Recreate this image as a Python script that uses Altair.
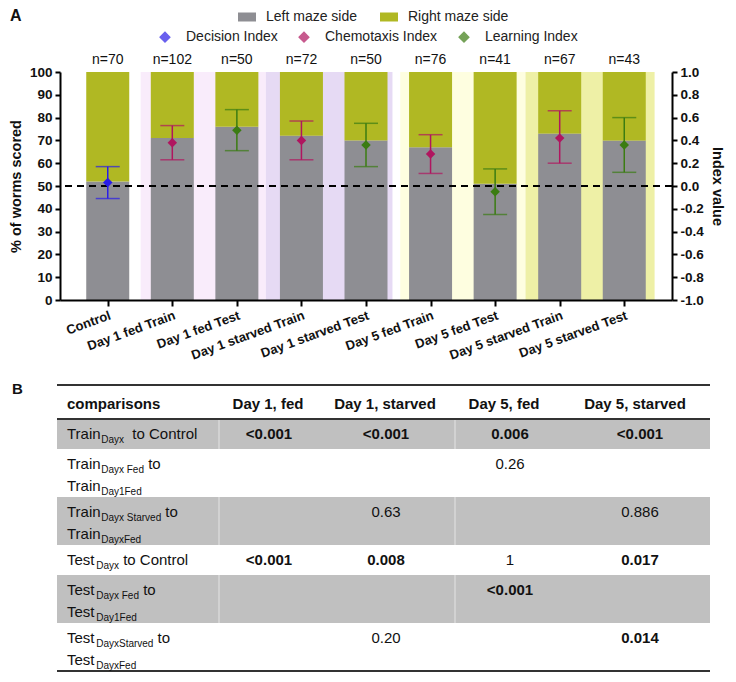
import altair as alt
import pandas as pd

# ---------------- Panel A data ----------------
groups = ["Control", "Day 1 fed Train", "Day 1 fed Test", "Day 1 starved Train",
          "Day 1 starved Test", "Day 5 fed Train", "Day 5 fed Test",
          "Day 5 starved Train", "Day 5 starved Test"]
n_worms = [70, 102, 50, 72, 50, 76, 41, 67, 43]
left_pct = [52, 71, 76, 72, 70, 67, 51, 73, 70]
index_type = ["Decision Index", "Chemotaxis Index", "Learning Index", "Chemotaxis Index",
              "Learning Index", "Chemotaxis Index", "Learning Index", "Chemotaxis Index",
              "Learning Index"]
index_val = [0.03, 0.38, 0.49, 0.40, 0.36, 0.28, -0.05, 0.42, 0.36]
index_hi = [0.17, 0.53, 0.67, 0.57, 0.55, 0.45, 0.15, 0.66, 0.60]
index_lo = [-0.11, 0.23, 0.31, 0.23, 0.17, 0.11, -0.25, 0.20, 0.12]
side_names = ["Left maze side", "Right maze side"]
index_names = ["Decision Index", "Chemotaxis Index", "Learning Index"]

# shaded condition blocks (in category units)
bg_names = ["Day 1 fed", "Day 1 starved", "Day 5 fed", "Day 5 starved"]
bg_start = [0.51, 2.45, 4.53, 6.47]
bg_end = [2.45, 4.41, 6.47, 8.47]

# ---------------- Panel B data ----------------
table_header = ["comparisons", "Day 1, fed", "Day 1, starved", "Day 5, fed", "Day 5, starved"]
row_labels = [
    [[("Train", 0), ("Dayx", 1), ("  to Control", 0)]],
    [[("Train", 0), ("Dayx Fed", 1), (" to", 0)], [("Train", 0), ("Day1Fed", 1)]],
    [[("Train", 0), ("Dayx Starved", 1), (" to", 0)], [("Train", 0), ("DayxFed", 1)]],
    [[("Test", 0), ("Dayx", 1), (" to Control", 0)]],
    [[("Test", 0), ("Dayx Fed", 1), (" to", 0)], [("Test", 0), ("Day1Fed", 1)]],
    [[("Test", 0), ("DayxStarved", 1), (" to", 0)], [("Test", 0), ("DayxFed", 1)]],
]
p_values = [
    ["<0.001", "<0.001", "0.006", "<0.001"],
    ["", "", "0.26", ""],
    ["", "0.63", "", "0.886"],
    ["<0.001", "0.008", "1", "0.017"],
    ["", "", "<0.001", ""],
    ["", "0.20", "", "0.014"],
]

# ---------------- styles / layout ----------------
FONT = "Liberation Sans"
GREY = "#8e8e93"
OLIVE = "#b0b823"
IDX_COLORS = ["#2a1de8", "#b0155f", "#3b7c12"]
BG_COLORS = ["#f9ecfb", "#e6daf4", "#fefee0", "#eef0a6"]
W, H = 612, 228

x_scale = alt.Scale(domain=[-0.662, 8.662], nice=False, zero=False)
pct_scale = alt.Scale(domain=[0, 100], nice=False, zero=False)
idx_scale = alt.Scale(domain=[-1, 1], nice=False, zero=False)

pos = list(range(len(groups)))
label_expr = "[" + ",".join("'" + g + "'" for g in groups) + "][datum.value]"

bar_rows = []
for i, g in enumerate(groups):
    bar_rows.append({"pos": i, "side": side_names[0], "y0": 0, "y1": left_pct[i]})
    bar_rows.append({"pos": i, "side": side_names[1], "y0": left_pct[i], "y1": 100})
bars_df = pd.DataFrame(bar_rows)

idx_df = pd.DataFrame({"pos": pos, "type": index_type, "val": index_val,
                       "hi": index_hi, "lo": index_lo})
n_df = pd.DataFrame({"pos": pos, "label": ["n=" + str(v) for v in n_worms]})
bg_df = pd.DataFrame({"name": bg_names, "start": bg_start, "end": bg_end, "col": BG_COLORS})

axis_common = dict(domainColor="black", domainWidth=2, tickColor="black", tickWidth=2,
                   labelFont=FONT, labelFontWeight="bold", labelColor="#111",
                   titleFont=FONT, titleFontWeight="bold", titleColor="#111", grid=False,
                   zindex=2, ticks=True, labelOverlap=False)

X_AX = alt.Axis(values=pos, labelExpr=label_expr, labelAngle=-20, labelAlign="right",
                labelBaseline="top", labelFontSize=13, tickSize=6, labelPadding=3,
                title=None, **axis_common)
PCT_AX = alt.Axis(values=list(range(0, 101, 10)), title="% of worms scored",
                  titleFontSize=14.5, labelFontSize=13.5, tickSize=5,
                  labelPadding=3, titlePadding=6, **axis_common)
IDX_AX = alt.Axis(values=[round(-1 + 0.2 * k, 1) for k in range(11)], orient="right",
                  labelExpr="replace(format(datum.value, '.1f'), '\u2212', '-')",
                  title="Index value", titleAngle=90, titleFontSize=14.5,
                  labelFontSize=13.5, tickSize=5, labelPadding=3, titlePadding=6,
                  **axis_common)

bg = alt.Chart(bg_df).mark_rect().encode(
    x=alt.X("start:Q", scale=x_scale, axis=X_AX),
    x2="end:Q",
    y=alt.datum(0, scale=pct_scale, axis=PCT_AX),
    y2=alt.datum(100),
    fill=alt.Fill("col:N", scale=None),
)

bars = alt.Chart(bars_df).mark_bar(size=43).encode(
    x=alt.X("pos:Q", scale=x_scale, axis=X_AX),
    y=alt.Y("y0:Q", scale=pct_scale, axis=PCT_AX),
    y2="y1:Q",
    color=alt.Color("side:N", scale=alt.Scale(domain=side_names, range=[GREY, OLIVE]),
                    legend=alt.Legend(orient="none", legendX=178, legendY=-64,
                                      direction="horizontal", title=None,
                                      symbolType="M-1,-0.5H1V0.5H-1Z", symbolSize=324,
                                      symbolStrokeWidth=0, labelFont=FONT,
                                      labelFontSize=14, labelColor="#222",
                                      labelOffset=10, columnPadding=22, padding=0)),
)

nlab = alt.Chart(n_df).mark_text(dy=-8, baseline="alphabetic", fontSize=14, font=FONT,
                                 color="#111").encode(
    x=alt.X("pos:Q", scale=x_scale, axis=X_AX),
    y=alt.datum(100, scale=pct_scale, axis=PCT_AX),
    text="label:N",
)

dash = alt.Chart(n_df).mark_rule(strokeDash=[7, 5], strokeWidth=2, color="black").encode(
    y=alt.datum(50, scale=pct_scale, axis=PCT_AX),
)

pct_layer = alt.layer(bg, bars, nlab, dash)

idx_color = alt.Color("type:N", scale=alt.Scale(domain=index_names, range=IDX_COLORS),
                      legend=alt.Legend(orient="none", legendX=98, legendY=-42,
                                        direction="horizontal", title=None,
                                        symbolType="diamond", symbolSize=90,
                                        labelFont=FONT, labelFontSize=14,
                                        labelColor="#222", labelOffset=14,
                                        columnPadding=18, padding=0))

err = alt.Chart(idx_df).mark_rule(strokeWidth=1.5).encode(
    x=alt.X("pos:Q", scale=x_scale, axis=X_AX),
    y=alt.Y("lo:Q", scale=idx_scale, axis=IDX_AX),
    y2="hi:Q",
    color=idx_color,
)
cap_hi = alt.Chart(idx_df).mark_tick(orient="horizontal", size=24, thickness=1.5).encode(
    x=alt.X("pos:Q", scale=x_scale, axis=X_AX),
    y=alt.Y("hi:Q", scale=idx_scale, axis=IDX_AX),
    color=idx_color,
)
cap_lo = alt.Chart(idx_df).mark_tick(orient="horizontal", size=24, thickness=1.5).encode(
    x=alt.X("pos:Q", scale=x_scale, axis=X_AX),
    y=alt.Y("lo:Q", scale=idx_scale, axis=IDX_AX),
    color=idx_color,
)
pts = alt.Chart(idx_df).mark_point(shape="diamond", filled=True, size=90, opacity=1).encode(
    x=alt.X("pos:Q", scale=x_scale, axis=X_AX),
    y=alt.Y("val:Q", scale=idx_scale, axis=IDX_AX),
    color=idx_color,
)
idx_layer = alt.layer(err, cap_hi, cap_lo, pts)

panel_a_label = alt.Chart(n_df.head(1)).mark_text(
    text="A", font=FONT, fontWeight="bold", fontSize=16, align="left", baseline="middle",
    color="#111").encode(x=alt.value(-50), y=alt.value(-56))

chart_a = alt.layer(pct_layer, idx_layer, panel_a_label).resolve_scale(
    y="independent", color="independent"
).properties(width=W, height=H)

# ---------------- Panel B (table) ----------------
TW = 653
row_h = [34, 30, 48, 48, 30, 48, 48]
TH = sum(row_h)
row_top = [sum(row_h[:k]) for k in range(len(row_h))]
MAIN, SUB = 15, 10
LABEL_X = 10
value_x = [212, 329, 453, 583]
header_x = [211, 328, 447, 578]
sep_x = [162, 398]

AW = {' ': 278, 'T': 611, 'r': 333, 'a': 556, 'i': 222, 'n': 556, 'D': 722, 'y': 500,
      'x': 500, 'F': 611, 'e': 556, 'd': 556, 'S': 667, 't': 278, 'v': 500, 'o': 556,
      'C': 722, 'l': 222, 's': 500, '1': 556}


def twidth(s, size):
    return sum(AW.get(c, 556) for c in s) * size / 1000.0


seg_rows = []
for r, lines in enumerate(row_labels):
    top = row_top[r + 1]
    if len(lines) == 1:
        bases = [top + 20]
    else:
        bases = [top + 20, top + 42]
    for li, line in enumerate(lines):
        x = LABEL_X
        for text, sub in line:
            size = SUB if sub else MAIN
            lead = len(text) - len(text.lstrip(" "))
            seg_rows.append({"x": x + twidth(" " * lead, size), "y": bases[li] + (3.5 if sub else 0),
                             "t": text.strip(), "size": size})
            x += twidth(text, size)
seg_df = pd.DataFrame(seg_rows)

val_rows = []
for r, vals in enumerate(p_values):
    for c, v in enumerate(vals):
        if v == "":
            continue
        num = float(v.replace("<", ""))
        val_rows.append({"x": value_x[c], "y": row_top[r + 1] + 20, "t": v,
                         "bold": num < 0.05})
val_df = pd.DataFrame(val_rows)

hdr_df = pd.DataFrame({"x": [LABEL_X] + header_x, "y": [19] * 5, "t": table_header})

grey_rows = [0, 2, 4]  # body rows with grey shading
grey_df = pd.DataFrame({"y0": [row_top[k + 1] for k in grey_rows],
                        "y1": [row_top[k + 1] + row_h[k + 1] for k in grey_rows]})
sep_df = pd.DataFrame([{"x": sx, "y0": row_top[k + 1], "y1": row_top[k + 1] + row_h[k + 1]}
                       for k in grey_rows for sx in sep_x])
lines_df = pd.DataFrame({"y": [0, row_h[0], TH]})

tx = alt.Scale(domain=[3, TW + 3], nice=False, zero=False)
ty = alt.Scale(domain=[0, TH], reverse=True, nice=False, zero=False)

grey = alt.Chart(grey_df).mark_rect(color="#c0c0c0").encode(
    x=alt.datum(0, scale=tx, axis=None), x2=alt.datum(TW),
    y=alt.Y("y0:Q", scale=ty, axis=None), y2="y1:Q")
seps = alt.Chart(sep_df).mark_rule(color="#e4e4e4", strokeWidth=1).encode(
    x=alt.X("x:Q", scale=tx, axis=None),
    y=alt.Y("y0:Q", scale=ty, axis=None), y2="y1:Q")
hlines = alt.Chart(lines_df).mark_rule(color="#333", strokeWidth=2).encode(
    x=alt.datum(0, scale=tx, axis=None), x2=alt.datum(TW),
    y=alt.Y("y:Q", scale=ty, axis=None))
hdr_left = alt.Chart(hdr_df.head(1)).mark_text(font=FONT, fontWeight="bold", fontSize=15,
                                               align="left", baseline="middle",
                                               color="#111").encode(
    x=alt.X("x:Q", scale=tx, axis=None), y=alt.Y("y:Q", scale=ty, axis=None), text="t:N")
hdr_rest = alt.Chart(hdr_df.iloc[1:]).mark_text(font=FONT, fontWeight="bold", fontSize=15,
                                                align="center", baseline="middle",
                                                color="#111").encode(
    x=alt.X("x:Q", scale=tx, axis=None), y=alt.Y("y:Q", scale=ty, axis=None), text="t:N")
segs = alt.Chart(seg_df).mark_text(font=FONT, align="left", baseline="alphabetic",
                                   color="#111").encode(
    x=alt.X("x:Q", scale=tx, axis=None), y=alt.Y("y:Q", scale=ty, axis=None),
    text="t:N", size=alt.Size("size:Q", scale=None))
vals_b = alt.Chart(val_df[val_df["bold"]]).mark_text(font=FONT, fontWeight="bold",
                                                     fontSize=15, align="center",
                                                     baseline="alphabetic",
                                                     color="#111").encode(
    x=alt.X("x:Q", scale=tx, axis=None), y=alt.Y("y:Q", scale=ty, axis=None), text="t:N")
vals_r = alt.Chart(val_df[~val_df["bold"]]).mark_text(font=FONT, fontSize=15,
                                                      align="center",
                                                      baseline="alphabetic",
                                                      color="#111").encode(
    x=alt.X("x:Q", scale=tx, axis=None), y=alt.Y("y:Q", scale=ty, axis=None), text="t:N")
panel_b_label = alt.Chart(hdr_df.head(1)).mark_text(
    text="B", font=FONT, fontWeight="bold", fontSize=15, align="left", baseline="middle",
    color="#111").encode(x=alt.value(-48), y=alt.value(4))

table = alt.layer(grey, seps, hlines, hdr_left, hdr_rest, segs, vals_b, vals_r,
                  panel_b_label).properties(width=TW, height=TH)

chart = alt.vconcat(chart_a, table, spacing=20).properties(padding=0).configure(
    background="white").configure_view(stroke=None)

chart.save("out.html", embed_options={"renderer": "svg", "actions": False})
